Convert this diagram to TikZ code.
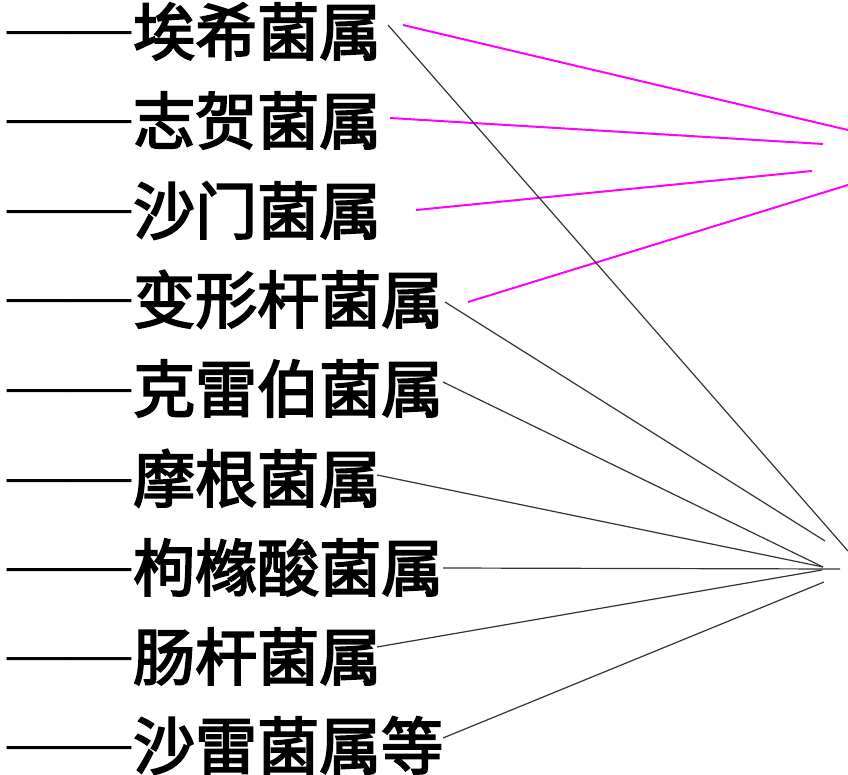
\documentclass[tikz,border=0pt]{standalone}
\usepackage{fontspec}
\setmainfont{Liberation Serif}
\newfontfamily\cjk{Noto Sans CJK SC}[FakeBold=3]
\definecolor{mag}{RGB}{255,0,255}
\begin{document}
\begin{tikzpicture}[x=1pt,y=-1pt,
  lab/.style={anchor=base west,inner sep=0pt,font=\fontsize{62}{62}\selectfont\cjk},
  dashlab/.style={anchor=base west,inner sep=0pt,font=\fontsize{62}{62}\selectfont\rmfamily},
  magline/.style={draw=mag,line width=2pt},
  blkline/.style={draw=black!80,line width=1.2pt}]
\useasboundingbox (0,0) rectangle (848,775);
\foreach \i/\y in {1/55,2/144,3/234,4/323,5/412,6/502,7/591,8/680,9/769}{
  \node[dashlab] (d\i) at (7,\y-7) {——};
}
\node[lab] (l1) at (133,55) {埃希菌属};
\node[lab] (l2) at (133,144) {志贺菌属};
\node[lab] (l3) at (133,234) {沙门菌属};
\node[lab] (l4) at (133,323) {变形杆菌属};
\node[lab] (l5) at (133,412) {克雷伯菌属};
\node[lab] (l6) at (133,502) {摩根菌属};
\node[lab] (l7) at (133,591) {枸橼酸菌属};
\node[lab] (l8) at (133,680) {肠杆菌属};
\node[lab] (l9) at (133,769) {沙雷菌属等};
% start points
\coordinate (m1s) at (403,25);
\coordinate (m2s) at (390,118);
\coordinate (m3s) at (416,210);
\coordinate (m4s) at (468,302);
\coordinate (b1s) at (388,25);
\coordinate (b2s) at (445,302);
\coordinate (b3s) at (443,382);
\coordinate (b4s) at (377,475);
\coordinate (b5s) at (443,568);
\coordinate (b6s) at (377,647);
\coordinate (b7s) at (443,738);
% end points
\coordinate (m1e) at (848,130);
\coordinate (m2e) at (823,144);
\coordinate (m3e) at (812,171);
\coordinate (m4e) at (848,185);
\coordinate (b1e) at (848,551);
\coordinate (b2e) at (825,541);
\coordinate (b3e) at (823,567);
\coordinate (b4e) at (823,567);
\coordinate (b5e) at (840,569);
\coordinate (b6e) at (822,570);
\coordinate (b7e) at (824,582);
\draw[magline] (m1s) -- (m1e);
\draw[magline] (m2s) -- (m2e);
\draw[magline] (m3s) -- (m3e);
\draw[magline] (m4s) -- (m4e);
\draw[blkline] (b1s) -- (b1e);
\draw[blkline] (b2s) -- (b2e);
\draw[blkline] (b3s) -- (b3e);
\draw[blkline] (b4s) -- (b4e);
\draw[blkline] (b5s) -- (b5e);
\draw[blkline] (b6s) -- (b6e);
\draw[blkline] (b7s) -- (b7e);
\end{tikzpicture}
\end{document}
